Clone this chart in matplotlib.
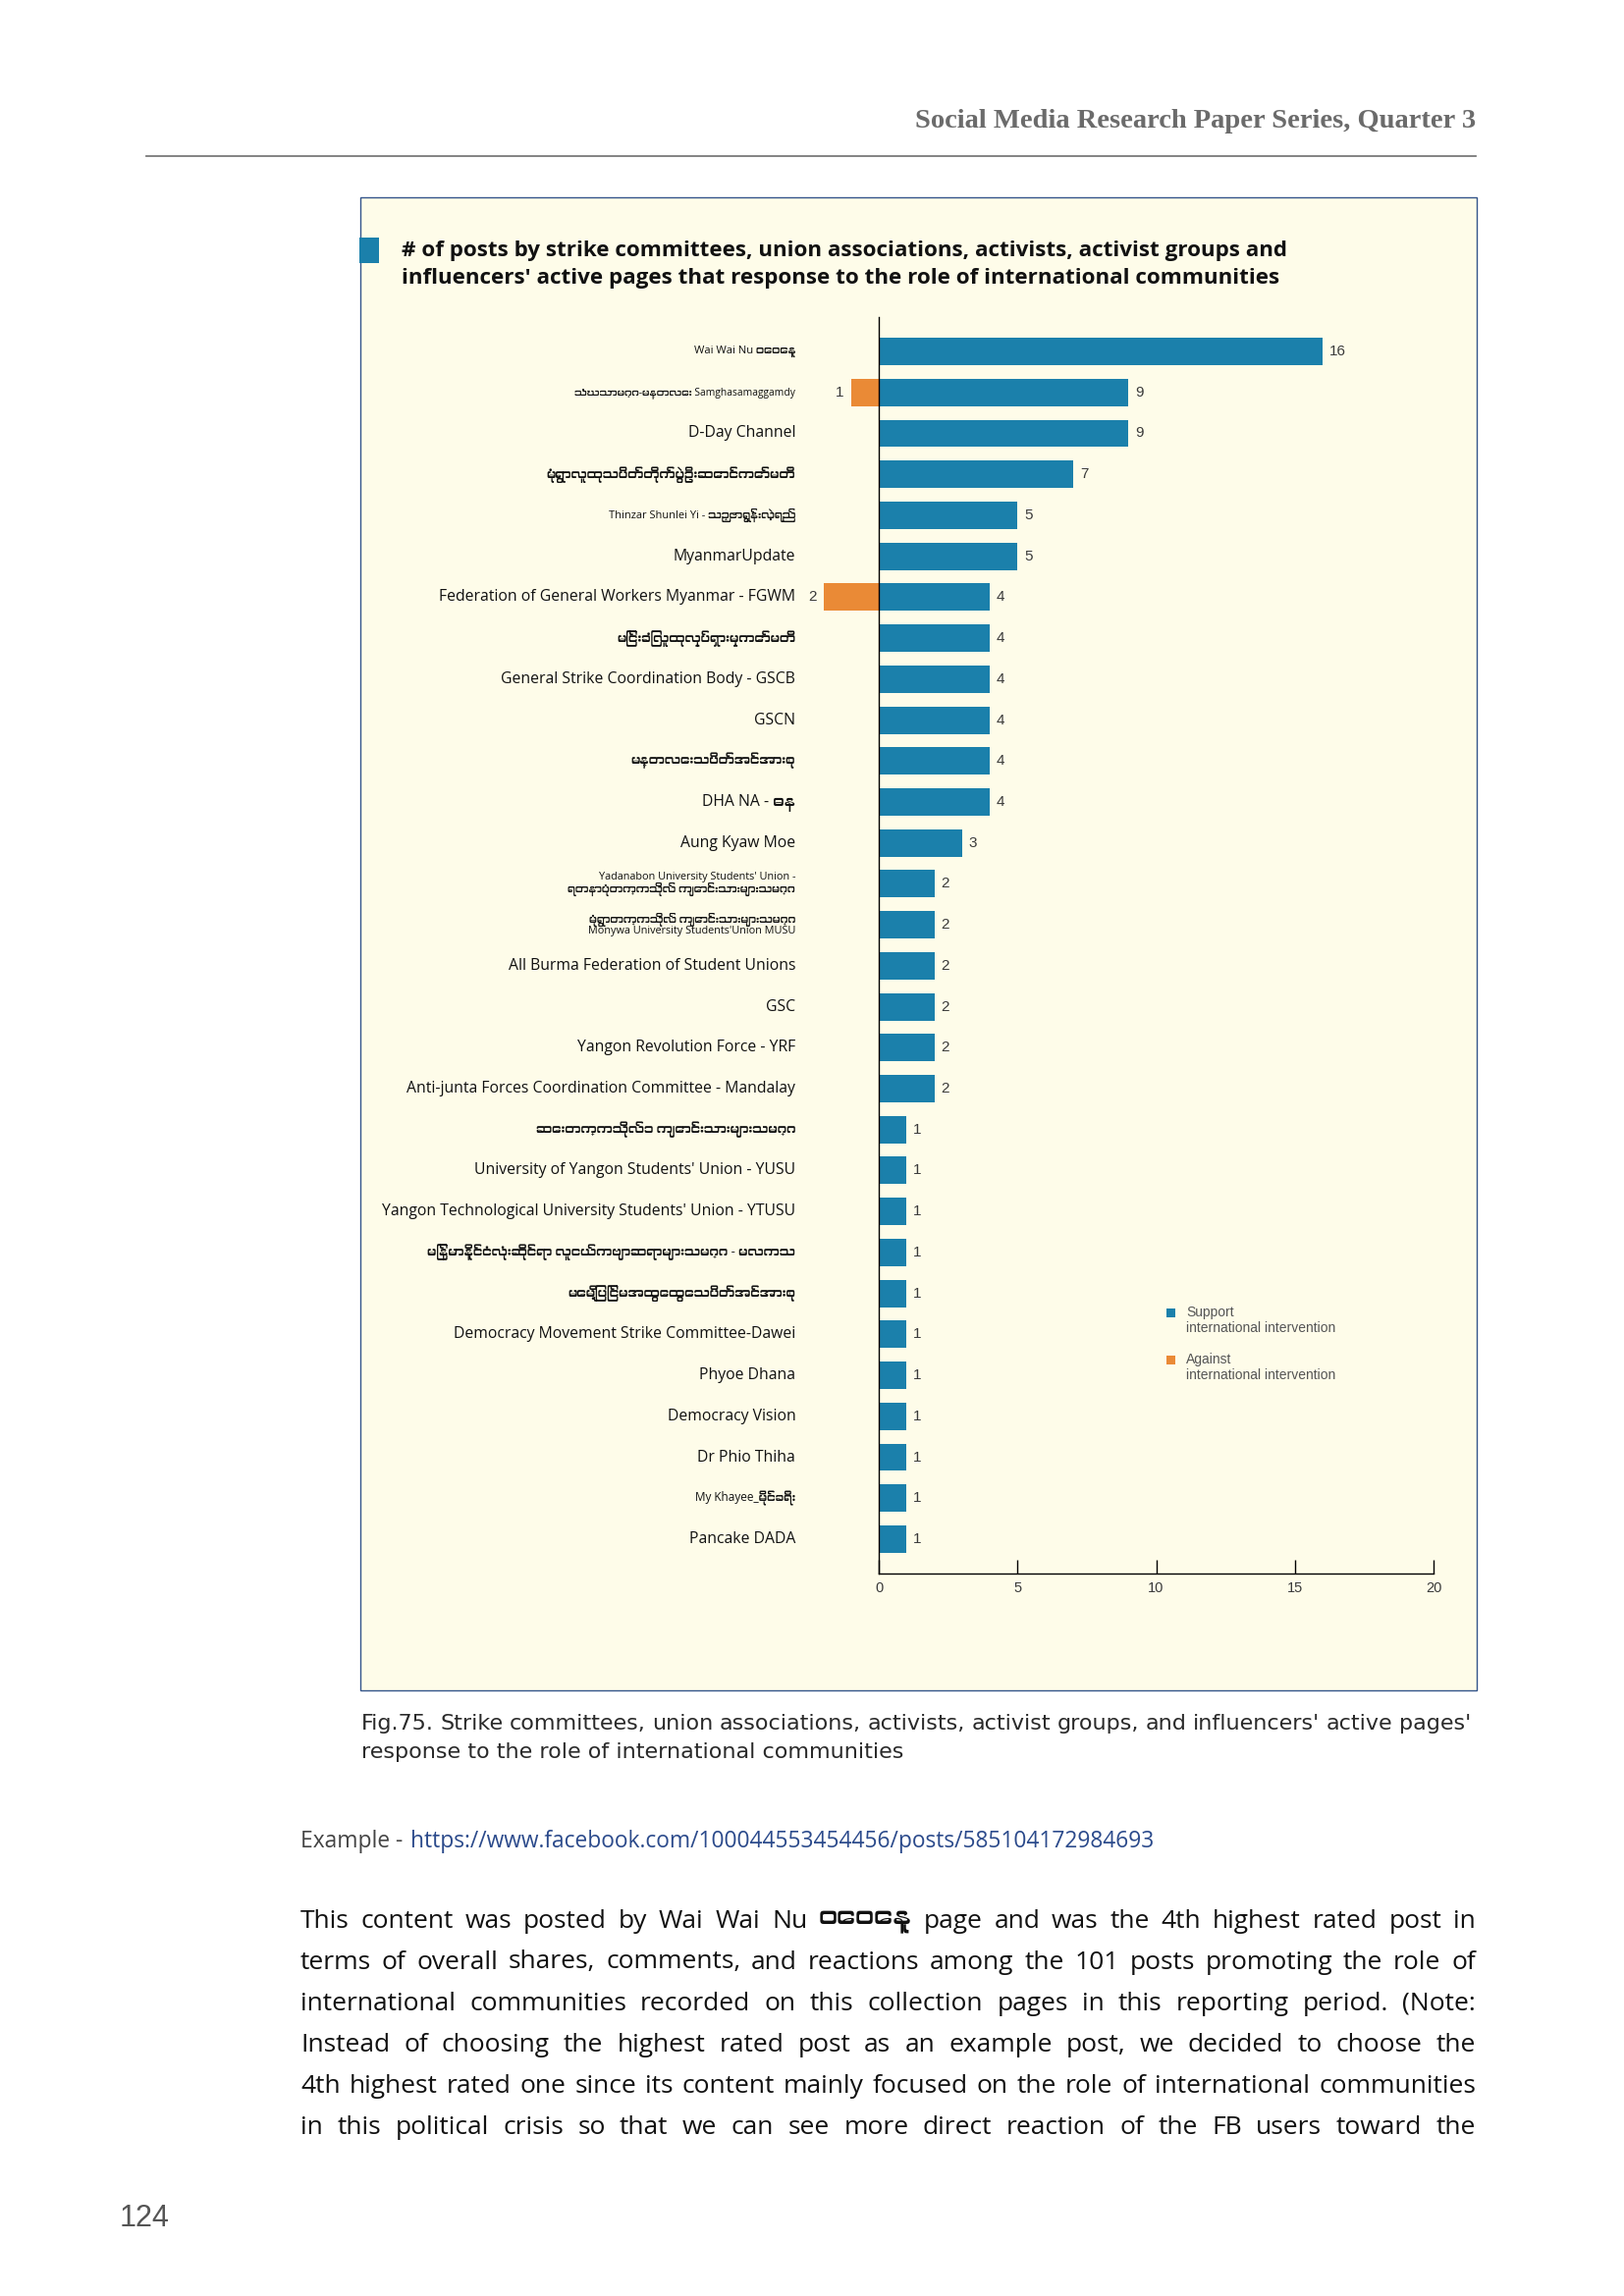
import matplotlib
matplotlib.use('Agg')
import matplotlib.pyplot as plt
from matplotlib import font_manager
from matplotlib.patches import Rectangle
from matplotlib.lines import Line2D

# ---- data ----
pages = [
    'Wai Wai Nu ဝေဝေနု',
    'သံဃသာမဂ္ဂ-မန္တလေး Samghasamaggamdy',
    'D-Day Channel',
    'မုံရွာလူထုသပိတ်တိုက်ပွဲဦးဆောင်ကော်မတီ',
    'Thinzar Shunlei Yi - သဉ္ဇာရွှန်းလဲ့ရည်',
    'MyanmarUpdate',
    'Federation of General Workers Myanmar - FGWM',
    'မြင်းခြံလူထုလှုပ်ရှားမှုကော်မတီ',
    'General Strike Coordination Body - GSCB',
    'GSCN',
    'မန္တလေးသပိတ်အင်အားစု',
    'DHA NA - ဓန',
    'Aung Kyaw Moe',
    "Yadanabon University Students' Union -\nရတနာပုံတက္ကသိုလ် ကျောင်းသားများသမဂ္ဂ",
    "မုံရွာတက္ကသိုလ် ကျောင်းသားများသမဂ္ဂ\nMonywa University Students'Union MUSU",
    'All Burma Federation of Student Unions',
    'GSC',
    'Yangon Revolution Force - YRF',
    'Anti-junta Forces Coordination Committee - Mandalay',
    'ဆေးတက္ကသိုလ်၁ ကျောင်းသားများသမဂ္ဂ',
    "University of Yangon Students' Union - YUSU",
    "Yangon Technological University Students' Union - YTUSU",
    'မြန်မာနိုင်ငံလုံးဆိုင်ရာ လူငယ်ကဗျာဆရာများသမဂ္ဂ - မလကသ',
    'မေမြို့ပြင်မအထွေထွေသပိတ်အင်အားစု',
    'Democracy Movement Strike Committee-Dawei',
    'Phyoe Dhana',
    'Democracy Vision',
    'Dr Phio Thiha',
    'My Khayee_မိုင်ခရီး',
    'Pancake DADA',
]
support = [16, 9, 9, 7, 5, 5, 4, 4, 4, 4, 4, 4, 3, 2, 2, 2, 2, 2, 2,
           1, 1, 1, 1, 1, 1, 1, 1, 1, 1, 1]
against = [0, 1, 0, 0, 0, 0, 2, 0, 0, 0, 0, 0, 0, 0, 0, 0, 0, 0, 0,
           0, 0, 0, 0, 0, 0, 0, 0, 0, 0, 0]
series_names = ['Support\ninternational intervention',
                'Against\ninternational intervention']
xticks = [0, 5, 10, 15, 20]

title_lines = ['# of posts by strike committees, union associations, activists, activist groups and',
               "influencers' active pages that response to the role of international communities"]
caption_lines = ["Fig.75. Strike committees, union associations, activists, activist groups, and influencers' active pages'",
                 'response to the role of international communities']
header = 'Social Media Research Paper Series, Quarter 3'
example_label = 'Example - '
example_url = 'https://www.facebook.com/100044553454456/posts/585104172984693'
paragraph = [
    'This content was posted by Wai Wai Nu ဝေဝေနု  page and was the 4th highest rated post in',
    'terms of overall shares, comments, and reactions among the 101 posts promoting the role of',
    'international communities recorded on this collection pages in this reporting period. (Note:',
    'Instead of choosing the highest rated post as an example post, we decided to choose the',
    '4th highest rated one since its content mainly focused on the role of international communities',
    'in this political crisis so that we can see more direct reaction of the FB users toward the',
]
page_no = '124'

BLUE = '#1b80ab'
ORANGE = '#ea8a36'
CREAM = '#fefce9'

# myanmar glyphs if some font has them
mm = [f.name for f in font_manager.fontManager.ttflist
      if 'Myanmar' in f.name or 'Padauk' in f.name]
LABEL_FONT = ['Open Sans'] + mm[:1] + ['DejaVu Sans']
small_size = {0: 8.1, 1: 7.4, 4: 7.9, 13: 7.8, 14: 7.8, 28: 8.5}

W, H = 1654, 2339
fig = plt.figure(figsize=(W / 100, H / 100), dpi=100)
fig.patch.set_facecolor('white')


def fx(x):
    return x / W


def fy(y):
    return 1 - y / H


def justify(words, x0, x1, y, fontsize, **kw):
    r = fig.canvas.get_renderer()
    objs = [fig.text(0, fy(y), w, va='center', fontsize=fontsize, **kw) for w in words]
    while True:
        widths = [t.get_window_extent(r).width for t in objs]
        gap = ((x1 - x0) - sum(widths)) / (len(words) - 1)
        if gap >= 4 or fontsize < 8:
            break
        fontsize -= 0.3
        for t in objs:
            t.set_fontsize(fontsize)
    x = x0
    for t, w in zip(objs, widths):
        t.set_x(fx(x))
        x += w + gap


# header
fig.text(fx(1503), fy(123), header, ha='right', va='center', fontsize=20.5,
         fontweight='bold', family='Liberation Serif', color='#6b6b6b')
fig.add_artist(Line2D([fx(149), fx(1503)], [fy(159), fy(159)], color='#7a7a7a', lw=1.3))

# chart box
fig.add_artist(Rectangle((fx(367), fy(1722)), fx(1504) - fx(367), (1722 - 201) / H,
                         transform=fig.transFigure, facecolor=CREAM, edgecolor='#34558b',
                         lw=1.0, zorder=-1))
fig.add_artist(Rectangle((fx(366), fy(268)), fx(20), 26 / H, transform=fig.transFigure,
                         facecolor=BLUE, edgecolor='none'))
fig.text(fx(409), fy(255), title_lines[0], va='center', fontsize=16.1, fontweight='bold',
         family='Open Sans', color='#111111')
fig.text(fx(409), fy(284), title_lines[1], va='center', fontsize=16.1, fontweight='bold',
         family='Open Sans', color='#111111')

# axes: x 0 -> 895 px, 20 -> 1460 px
ax = fig.add_axes([fx(810.25), fy(1603), fx(1460) - fx(810.25), (1603 - 323) / H])
ax.set_facecolor('none')
y = list(range(len(pages)))
ax.barh(y, support, height=0.67, color=BLUE)
ax.barh(y, [-a for a in against], height=0.67, color=ORANGE)
ax.set_xlim(-3, 20)
ax.set_ylim(len(pages) - 1 + 0.84, -0.84)

for i, (name, s, a) in enumerate(zip(pages, support, against)):
    if i in small_size:
        fs = small_size[i]
    elif not any(c.isascii() and c.isalpha() for c in name):
        fs = 9.4
    else:
        fs = 11.3
    ax.text(-3.0, i, name, ha='right', va='center', fontsize=fs, family=LABEL_FONT,
            color='#111111', linespacing=0.95)
    ax.text(s + 0.25, i, str(s), ha='left', va='center', fontsize=11,
            family='Liberation Sans', color='#3a3a3a')
    if a:
        ax.text(-a - 0.25, i, str(a), ha='right', va='center', fontsize=11,
                family='Liberation Sans', color='#3a3a3a')

for side in ['top', 'right']:
    ax.spines[side].set_visible(False)
ax.spines['left'].set_position(('data', 0))
ax.spines['left'].set_linewidth(1.0)
ax.spines['bottom'].set_bounds(0, 20)
ax.spines['bottom'].set_linewidth(1.0)
ax.tick_params(left=False, labelleft=False)
ax.set_xticks(xticks)
ax.tick_params(axis='x', direction='in', length=10, width=1.0, pad=6,
               labelsize=10.5, labelcolor='#3a3a3a')
for lbl in ax.get_xticklabels():
    lbl.set_family('Liberation Sans')

# legend
for (col, name), yc in zip([(BLUE, series_names[0]), (ORANGE, series_names[1])], [1337, 1385]):
    fig.add_artist(Rectangle((fx(1188), fy(yc + 4.5)), fx(9), 9 / H, transform=fig.transFigure,
                             facecolor=col, edgecolor='none'))
    first, second = name.split('\n')
    fig.text(fx(1208), fy(yc), first, va='center', fontsize=10, family='Liberation Sans', color='#555555')
    fig.text(fx(1208), fy(yc + 16), second, va='center', fontsize=10, family='Liberation Sans', color='#555555')

# caption
justify(caption_lines[0].split(' '), 368, 1498, 1756, 16, family='DejaVu Sans', color='#2a2a2a')
fig.text(fx(368), fy(1785), caption_lines[1], va='center', fontsize=16, family='DejaVu Sans', color='#2a2a2a')

# example link
r = fig.canvas.get_renderer()
t = fig.text(fx(306), fy(1876), example_label, va='center', fontsize=16.4, family='Open Sans', color='#444444')
wlab = t.get_window_extent(r).width
fig.text(fx(306 + wlab + 2), fy(1876), example_url, va='center', fontsize=16.4, family='Open Sans', color='#2b4a8b')

# paragraph
for k, line in enumerate(paragraph):
    justify(line.split(), 306, 1503, 1957 + 42 * k, 19, family=LABEL_FONT, color='#111111')

fig.text(fx(122), fy(2260), page_no, va='center', fontsize=22,
         family=['Liberation Sans Narrow', 'Liberation Sans'], color='#555555')

plt.savefig('out.png', dpi=100)
